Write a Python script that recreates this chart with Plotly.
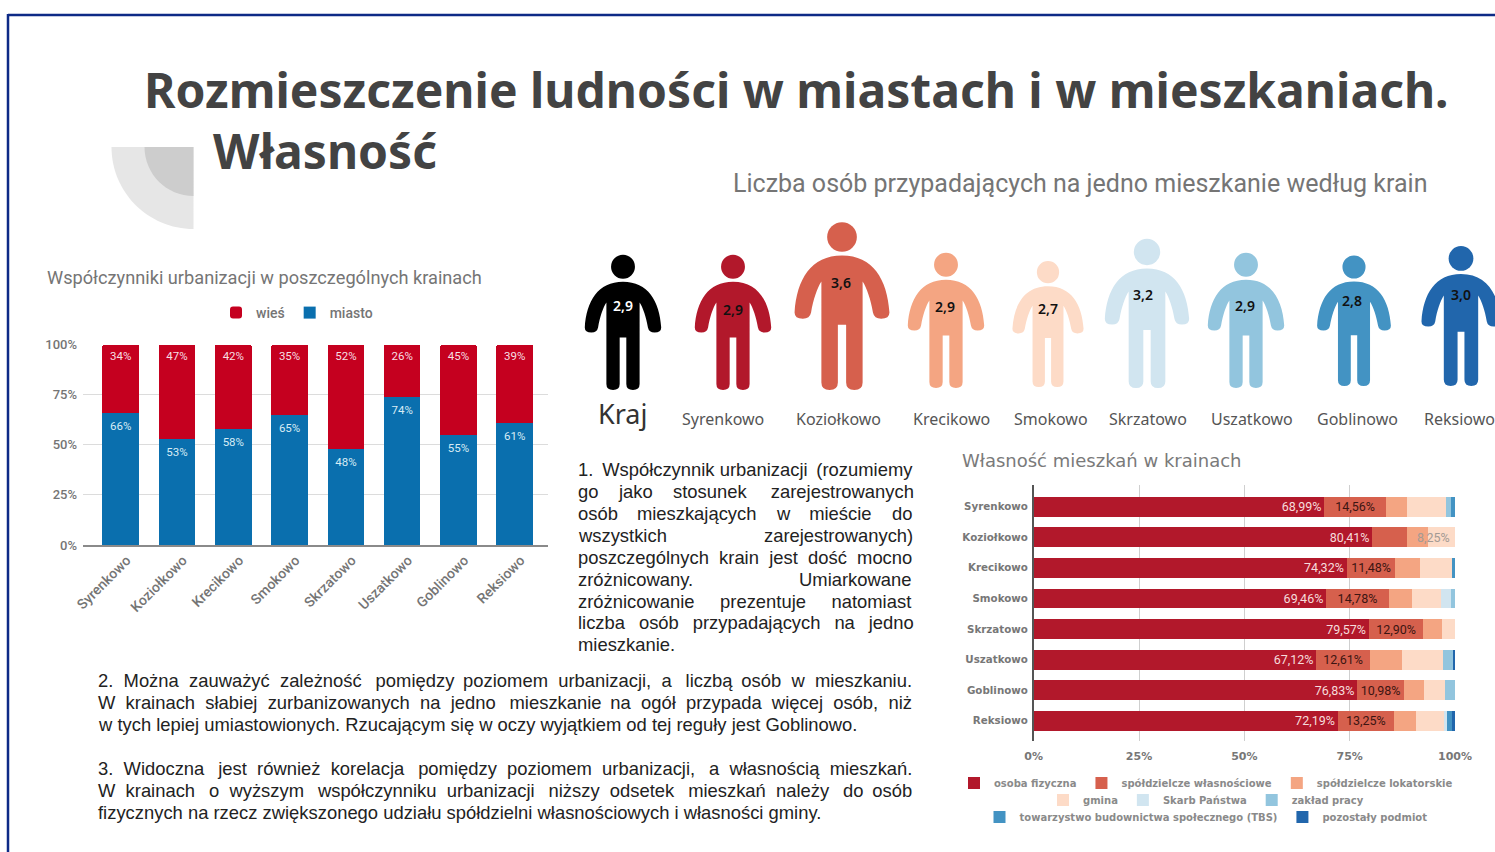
import plotly.graph_objects as go

W, H = 1495, 852
def fx(px): return px / W
def fy(py): return 1 - py / H

# ---------- data ----------
regions = ["Syrenkowo", "Koziołkowo", "Krecikowo", "Smokowo", "Skrzatowo", "Uszatkowo", "Goblinowo", "Reksiowo"]
urban_town = [66, 53, 58, 65, 48, 74, 55, 61]
urban_village = [34, 47, 42, 35, 52, 26, 45, 39]

own_osoba = [68.99, 80.41, 74.32, 69.46, 79.57, 67.12, 76.83, 72.19]
own_wlasn = [14.56, 8.25, 11.48, 14.78, 12.90, 12.61, 10.98, 13.25]
own_lokat = [5.1, 5.05, 5.97, 5.5, 4.35, 7.7, 4.9, 5.3]
own_gmina = [9.3, 6.29, 7.43, 7.0, 3.18, 9.8, 4.9, 6.7]
own_skarb = [0, 0, 0, 2.3, 0, 0, 0, 0.6]
own_zaklad = [1.2, 0, 0, 0.96, 0, 2.3, 2.39, 0]
own_tbs = [0.85, 0, 0.8, 0, 0, 0, 0, 1.2]
own_poz = [0, 0, 0, 0, 0, 0.47, 0, 0.66]
own_names = ["osoba fizyczna", "spółdzielcze własnościowe", "spółdzielcze lokatorskie", "gmina",
             "Skarb Państwa", "zakład pracy", "towarzystwo budownictwa społecznego (TBS)", "pozostały podmiot"]
own_colors = ["#b2182b", "#d6604d", "#f4a582", "#fddbc7", "#d1e5f0", "#92c5de", "#4393c3", "#2166ac"]
own_series = [own_osoba, own_wlasn, own_lokat, own_gmina, own_skarb, own_zaklad, own_tbs, own_poz]
own_legend = ["legend2", "legend2", "legend2", "legend3", "legend3", "legend3", "legend4", "legend4"]

person_names = ["Kraj"] + regions
person_values = [2.9, 2.9, 3.6, 2.9, 2.7, 3.2, 2.9, 2.8, 3.0]
person_colors = ["#000000", "#b2182b", "#d6604d", "#f4a582", "#fddbc7", "#d1e5f0", "#92c5de", "#4393c3", "#2166ac"]
person_cx = [623, 733, 842, 946, 1048, 1147, 1246, 1354, 1461]
person_base = [390, 390, 390, 388, 387, 388, 388, 386, 386]
person_label_x = [622, 723, 838, 951, 1051, 1148, 1252, 1357, 1459]
person_value_xy = [(623, 305), (733, 309), (841, 282), (945, 307), (1048, 308), (1143, 294), (1245, 305), (1352, 301), (1461, 294)]

para1 = ["1. Współczynnik urbanizacji (rozumiemy", "go jako stosunek zarejestrowanych",
         "osób mieszkających w mieście do", "wszystkich zarejestrowanych)",
         "poszczególnych krain jest dość mocno", "zróżnicowany. Umiarkowane",
         "zróżnicowanie prezentuje natomiast", "liczba osób przypadających na jedno", "mieszkanie."]
para1_y = [469, 491, 513, 535, 557, 579, 601, 622, 644]
para2 = ["2.  Można zauważyć zależność pomiędzy poziomem urbanizacji, a liczbą osób w mieszkaniu.",
         "W krainach słabiej zurbanizowanych na jedno mieszkanie na ogół przypada więcej osób, niż",
         "w tych lepiej umiastowionych. Rzucającym się w oczy wyjątkiem od tej reguły jest Goblinowo."]
para2_y = [680, 702, 724]
para3 = ["3.  Widoczna jest również korelacja pomiędzy poziomem urbanizacji, a własnością mieszkań.",
         "W krainach o wyższym współczynniku urbanizacji niższy odsetek mieszkań należy do osób",
         "fizycznych na rzecz zwiększonego udziału spółdzielni własnościowych i własności gminy."]
para3_y = [768, 790, 812]

# ---------- helpers ----------
GRAY = "#757575"
COND = "Roboto, sans-serif"
annotations, shapes = [], []

def label(x, y, text, size, color, family, anchor="left", weight=None):
    font = dict(size=size, color=color, family=family)
    if weight: font["weight"] = weight
    annotations.append(dict(x=fx(x), y=fy(y), xref="paper", yref="paper", text=text, showarrow=False,
                            xanchor=anchor, yanchor="middle", font=font, borderpad=0))

ARIAL = dict(a=556,b=556,c=500,d=556,e=556,f=278,g=556,h=556,i=222,j=222,k=500,l=222,m=833,n=556,o=556,p=556,
             q=556,r=333,s=500,t=278,u=556,v=500,w=722,x=500,y=500,z=500)
ARIAL.update({"ą":556,"ę":556,"ć":500,"ł":222,"ń":556,"ó":556,"ś":500,"ż":500,"ź":500,"W":944,"R":722,"U":667,
              "M":833,"G":778,".":278,",":278,"(":333,")":333})
def text_w(s, size):
    return sum(ARIAL.get(c, 556 if c.isdigit() else 278) for c in s) * size / 1000

THIN = "\u2009"
def justify(line, x0, x1, size):
    words = [w for w in line.split(" ") if w]
    gaps = len(words) - 1
    natural = sum(text_w(w, size) for w in words)
    target = (x1 - x0 - natural) / gaps
    space, thin = 0.278 * size, 0.2 * size
    out, err = words[0], 0.0
    for w in words[1:]:
        want = target + err
        n = max(1, int(want // space))
        k = max(0, round((want - n * space) / thin))
        err = want - n * space - k * thin
        out += "\u00a0" * n + THIN * k + w
    return out

BODY = 18.4
for i, (l, y) in enumerate(zip(para1, para1_y)):
    t = l if i == len(para1) - 1 else justify(l, 576.5, 911.5, BODY)
    label(576.5, y, t, BODY, "#222222", "Liberation Sans, Arial")
for i, (l, y) in enumerate(zip(para2, para2_y)):
    t = l if i == 2 else justify(l, 97, 913, BODY)
    label(97, y, t, BODY, "#222222", "Liberation Sans, Arial")
for i, (l, y) in enumerate(zip(para3, para3_y)):
    t = l if i == 2 else justify(l, 97, 913, BODY)
    label(97, y, t, BODY, "#222222", "Liberation Sans, Arial")

# frame
BLUE = "#0d2a86"
shapes.append(dict(type="line", xref="paper", yref="paper", x0=fx(8), x1=1, y0=fy(15), y1=fy(15), line=dict(color=BLUE, width=2.5)))
shapes.append(dict(type="line", xref="paper", yref="paper", x0=fx(8), x1=fx(8), y0=fy(14), y1=0, line=dict(color=BLUE, width=2.5)))

# decorative quarter discs
def quarter(cx, cy, r, color):
    k = 0.5523 * r
    p = lambda x, y: f"{fx(x):.5f},{fy(y):.5f}"
    path = (f"M{p(cx, cy)} L{p(cx - r, cy)} C{p(cx - r, cy + k)} {p(cx - k, cy + r)} {p(cx, cy + r)} Z")
    shapes.append(dict(type="path", xref="paper", yref="paper", path=path, fillcolor=color, line=dict(width=0), layer="below"))
quarter(193.5, 147, 82, "#e6e6e6")
quarter(193.5, 147, 49, "#cdcdcd")

# people: height proportional to persons per flat
PX_PER_PERSON = 46.4
BODY_PTS = [("M",15,350),("C",20,270,55,212,130,212),("C",205,212,240,270,245,350),("Q",245,365,225,365),
            ("Q",208,365,205,350),("C",200,320,190,290,180,275),("L",180,520),("Q",180,538,160,538),
            ("Q",140,538,140,520),("L",140,380),("L",120,380),("L",120,520),("Q",120,538,100,538),
            ("Q",80,538,80,520),("L",80,275),("C",70,290,60,320,55,350),("Q",52,365,35,365),("Q",15,365,15,350)]
def person(cx, base, value, color):
    h = value * PX_PER_PERSON
    s = h / 405
    tx = lambda x: fx(cx + (x - 130) * s)
    ty = lambda y: fy(base - h + (y - 133) * s)
    parts = []
    for seg in BODY_PTS:
        c, pts = seg[0], seg[1:]
        coords = " ".join(f"{tx(pts[i]):.5f},{ty(pts[i+1]):.5f}" for i in range(0, len(pts), 2))
        parts.append(c + coords)
    shapes.append(dict(type="path", xref="paper", yref="paper", path=" ".join(parts) + " Z",
                       fillcolor=color, line=dict(width=0), layer="below"))
    r = 36
    shapes.append(dict(type="circle", xref="paper", yref="paper", x0=tx(130 - r), x1=tx(130 + r),
                       y0=ty(167 - r), y1=ty(167 + r), fillcolor=color, line=dict(width=0), layer="below"))

for i, v in enumerate(person_values):
    person(person_cx[i], person_base[i], v, person_colors[i])
    vx, vy = person_value_xy[i]
    label(vx, vy, f"{v:.1f}".replace(".", ","), 14, "#ffffff" if i == 0 else "#111111", "Noto Sans", "center", 600)
    if i == 0:
        label(person_label_x[i], 413, person_names[i], 27, "#333333", "Noto Sans", "center")
    else:
        label(person_label_x[i], 419, person_names[i], 16, "#555555", "Noto Sans", "center")

# titles
label(143, 90, "Rozmieszczenie ludności w miastach i w mieszkaniach.", 48, "#434343", "Noto Sans", "left", 700)
label(212, 150, "Własność", 48, "#434343", "Noto Sans", "left", 700)
label(732, 183, "Liczba osób przypadających na jedno mieszkanie według krain", 25, GRAY, "Roboto")
label(46, 278, "Współczynniki urbanizacji w poszczególnych krainach", 18.2, GRAY, COND)
label(961, 460, "Własność mieszkań w krainach", 18, "#7a7a7a", "DejaVu Sans")

# ---------- traces ----------
fig = go.Figure()
fig.add_trace(go.Bar(x=regions, y=urban_town, name="miasto", marker=dict(color="#0a6fae", line=dict(width=0)),
                     xaxis="x", yaxis="y", legend="legend", legendrank=2))
fig.add_trace(go.Bar(x=regions, y=urban_village, name="wieś", marker=dict(color="#c5001f", line=dict(width=0), cornerradius=2),
                     xaxis="x", yaxis="y", legend="legend", legendrank=1))
fig.add_trace(go.Scatter(x=regions, y=[v - 7 for v in urban_town], mode="text", text=[f"{v}%" for v in urban_town],
                         textfont=dict(size=11.5, color="#d8ecf5", family=COND), textposition="middle center",
                         showlegend=False, xaxis="x", yaxis="y", hoverinfo="skip"))
fig.add_trace(go.Scatter(x=regions, y=[100 - 6.5 for _ in urban_village], mode="text", text=[f"{v}%" for v in urban_village],
                         textfont=dict(size=11.5, color="#f6dfe3", family=COND), textposition="middle center",
                         showlegend=False, xaxis="x", yaxis="y", hoverinfo="skip"))

for idx, (name, color, vals, lg) in enumerate(zip(own_names, own_colors, own_series, own_legend)):
    kw = {}
    if idx == 0:
        kw = dict(text=[f"{v:.2f}%".replace(".", ",") for v in vals], textposition="inside", insidetextanchor="end",
                  textangle=0, constraintext="none", textfont=dict(size=12.5, color="#f6dcdc", family="Roboto"))
    if idx == 1:
        kw = dict(text=["" if r == "Koziołkowo" else f"{v:.2f}%".replace(".", ",") for r, v in zip(regions, vals)],
                  textposition="inside", insidetextanchor="middle", textangle=0, constraintext="none",
                  textfont=dict(size=12.5, color="#3c1512", family="Roboto"))
    fig.add_trace(go.Bar(y=regions, x=vals, name=name, orientation="h", marker=dict(color=color, line=dict(width=0)),
                         xaxis="x2", yaxis="y2", legend=lg, **kw))

# Koziołkowo's 8,25% label sits further right in the reference
annotations.append(dict(x=95.0, y="Koziołkowo", xref="x2", yref="y2", text="8,25%", showarrow=False,
                        font=dict(size=12.5, color="#a39a94", family="Roboto")))

LEG_FONT = dict(size=10, color="#8a8a8a", family="DejaVu Sans", weight=700)
def leg(y, cx=1206):
    return dict(orientation="h", x=fx(cx), y=fy(y), xanchor="center",
                yanchor="middle", font=LEG_FONT, traceorder="normal", bgcolor="rgba(0,0,0,0)",
                itemclick=False, itemdoubleclick=False, tracegroupgap=0)

AX_FONT = dict(size=10.3, color="#777777", family="DejaVu Sans", weight=700)
fig.update_layout(
    width=W, height=H, margin=dict(l=0, r=0, t=0, b=0, autoexpand=False), autosize=False,
    paper_bgcolor="white", plot_bgcolor="rgba(0,0,0,0)",
    barmode="stack", bargap=0.35, hovermode=False,
    shapes=shapes, annotations=annotations,
    xaxis=dict(domain=[fx(83), fx(548)], anchor="y", range=[-0.67, 7.59], tickangle=-45, showgrid=False,
               showline=True, linecolor="#8a8a8a", linewidth=1.5, ticks="", zeroline=False, ticklabelshift=6,
               tickfont=dict(size=14, color=GRAY, family=COND, weight=500)),
    yaxis=dict(domain=[fy(545), fy(344.5)], anchor="x", range=[0, 100], tickvals=[0, 25, 50, 75, 100],
               ticktext=["0%", "25%", "50%", "75%", "100%"], showgrid=True, gridcolor="#dcdcdc", gridwidth=1,
               zeroline=False, showline=False, ticks="", ticklabelstandoff=5,
               tickfont=dict(size=13, color=GRAY, family=COND, weight=500)),
    xaxis2=dict(domain=[fx(1033.7), fx(1455)], anchor="y2", range=[0, 100], tickvals=[0, 25, 50, 75, 100],
                ticktext=["0%", "25%", "50%", "75%", "100%"], showgrid=True, gridcolor="#cfcfcf", gridwidth=1,
                zeroline=False, ticks="", ticklabelstandoff=7,
                tickfont=dict(size=11, color="#777777", family="DejaVu Sans", weight=700)),
    yaxis2=dict(domain=[fy(741), fy(485)], anchor="x2", range=[7.66, -0.71], showgrid=False, zeroline=False,
                showline=True, linecolor="#555555", linewidth=1.5, ticks="", ticklabelstandoff=2, tickfont=AX_FONT),
    legend=dict(orientation="h", x=fx(297), y=fy(313), xanchor="center",
                yanchor="middle", traceorder="normal",
                font=dict(size=14, color=GRAY, family=COND, weight=500), bgcolor="rgba(0,0,0,0)"),
    legend2=leg(783), legend3=leg(800), legend4=leg(817),
)
fig.write_html("out.html", post_script="document.body.style.margin='0';", config=dict(displayModeBar=False))
